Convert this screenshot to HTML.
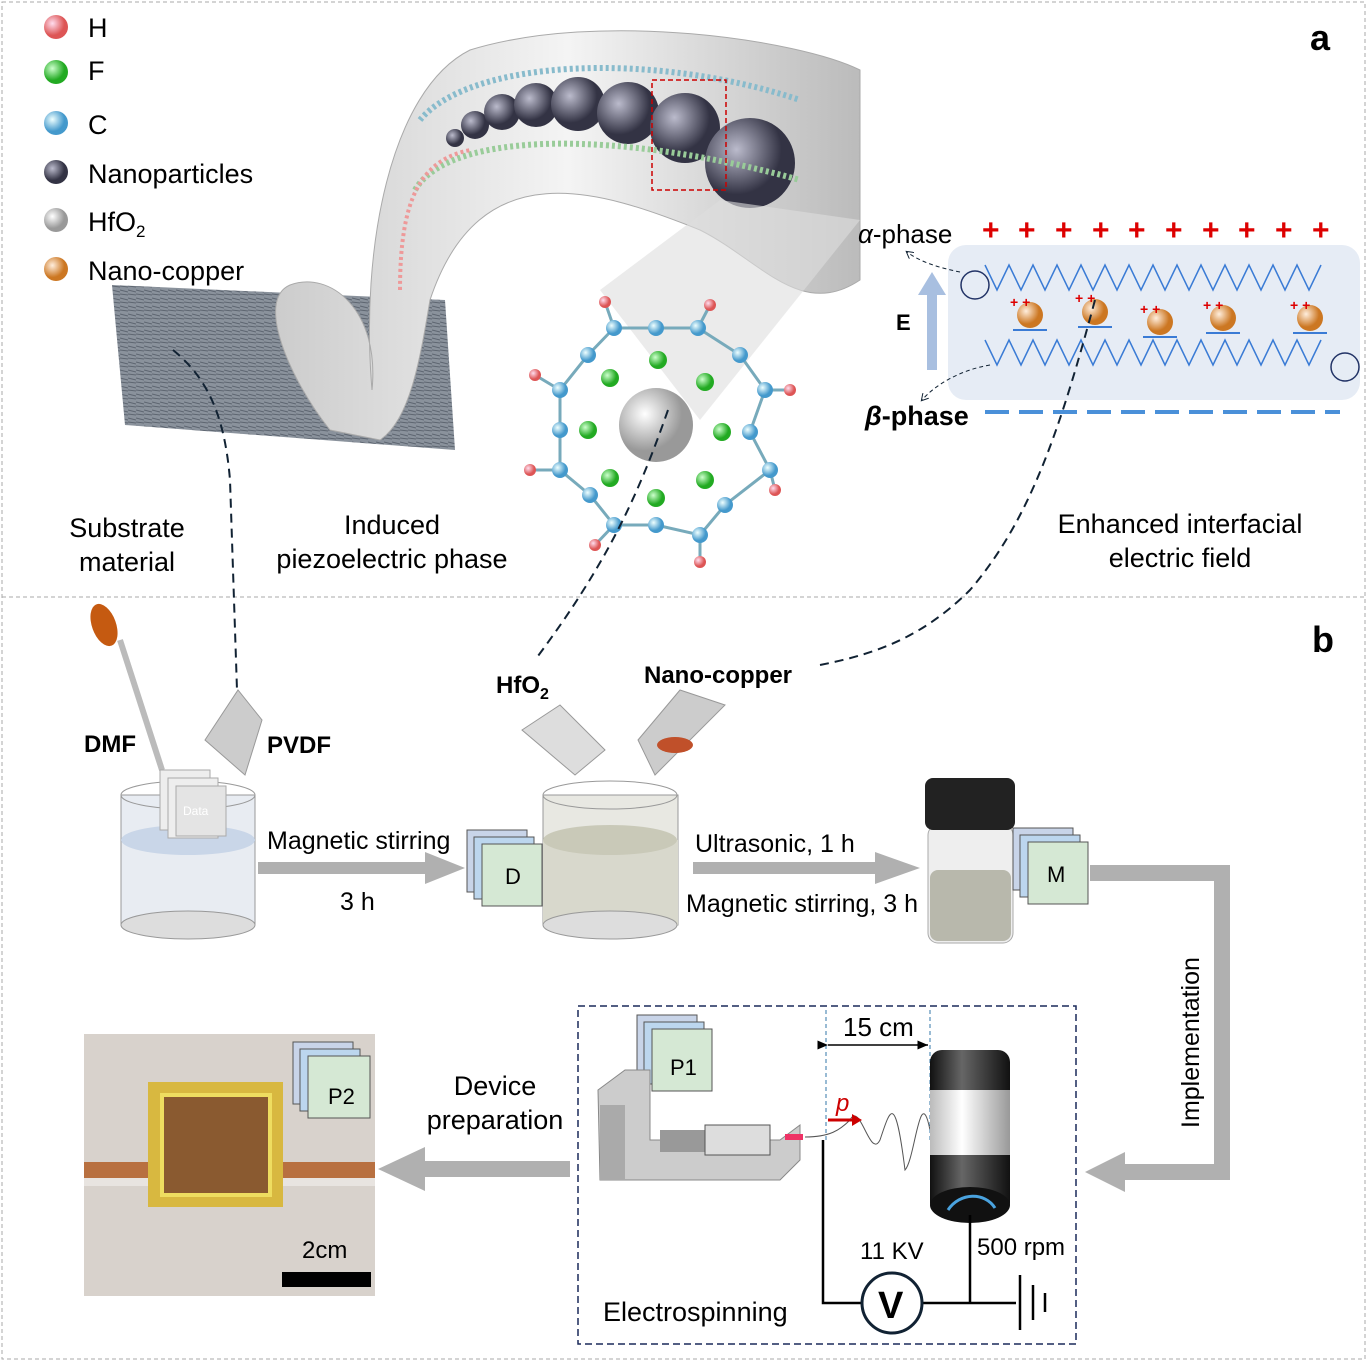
<!DOCTYPE html>
<html><head><meta charset="utf-8"><style>
html,body{margin:0;padding:0;background:#fff}
svg{display:block;font-family:"Liberation Sans",Arial,sans-serif}
</style></head><body>
<svg width="1367" height="1361" viewBox="0 0 1367 1361" xmlns="http://www.w3.org/2000/svg">
<defs>
<radialGradient id="gH" cx="35%" cy="35%"><stop offset="0" stop-color="#fde"/><stop offset="1" stop-color="#d55"/></radialGradient>
<radialGradient id="gF" cx="35%" cy="35%"><stop offset="0" stop-color="#cfc"/><stop offset="1" stop-color="#2a2"/></radialGradient>
<radialGradient id="gC" cx="35%" cy="35%"><stop offset="0" stop-color="#eff"/><stop offset="1" stop-color="#49c"/></radialGradient>
<radialGradient id="gN" cx="35%" cy="35%"><stop offset="0" stop-color="#bbc"/><stop offset="1" stop-color="#334"/></radialGradient>
<radialGradient id="gW" cx="35%" cy="35%"><stop offset="0" stop-color="#fff"/><stop offset="1" stop-color="#999"/></radialGradient>
<radialGradient id="gCu" cx="35%" cy="35%"><stop offset="0" stop-color="#fed"/><stop offset="1" stop-color="#c72"/></radialGradient>
<linearGradient id="tube" x1="0" x2="1"><stop offset="0" stop-color="#ccc"/><stop offset=".5" stop-color="#f4f4f4"/><stop offset="1" stop-color="#bbb"/></linearGradient>
<linearGradient id="cyl" x1="0" x2="1"><stop offset="0" stop-color="#111"/><stop offset=".4" stop-color="#666"/><stop offset="1" stop-color="#111"/></linearGradient>
<linearGradient id="cylw" x1="0" x2="1"><stop offset="0" stop-color="#bbb"/><stop offset=".4" stop-color="#fff"/><stop offset="1" stop-color="#999"/></linearGradient>
<pattern id="mesh" width="8" height="8" patternUnits="userSpaceOnUse"><rect width="8" height="8" fill="#8a929c"/><path d="M0,2 L8,4 M0,6 L8,7" stroke="#5d6570" stroke-width="1"/></pattern>
<marker id="ah" markerWidth="8" markerHeight="8" refX="6" refY="4" orient="auto"><path d="M0,0 L7,4 L0,8" fill="none" stroke="#123" stroke-width="1"/></marker>
<marker id="ak" markerWidth="8" markerHeight="8" refX="7" refY="4" orient="auto"><path d="M0,1 L7,4 L0,7z" fill="#000"/></marker>
</defs>
<rect x="2" y="2" width="1363" height="1357" fill="none" stroke="#aaa" stroke-dasharray="4,3"/>
<line x1="2" y1="597" x2="1365" y2="597" stroke="#aaa" stroke-dasharray="4,3"/>
<text x="1310" y="50" font-size="36" font-weight="bold">a</text>
<text x="1312" y="652" font-size="36" font-weight="bold">b</text>
<!-- legend -->
<g font-size="27">
<circle cx="56" cy="27" r="12" fill="url(#gH)"/><text x="88" y="37">H</text>
<circle cx="56" cy="72" r="12" fill="url(#gF)"/><text x="88" y="80">F</text>
<circle cx="56" cy="123" r="12" fill="url(#gC)"/><text x="88" y="134">C</text>
<circle cx="56" cy="172" r="12" fill="url(#gN)"/><text x="88" y="183">Nanoparticles</text>
<circle cx="56" cy="220" r="12" fill="url(#gW)"/><text x="88" y="231">HfO<tspan font-size="17" dy="6">2</tspan></text>
<circle cx="56" cy="269" r="12" fill="url(#gCu)"/><text x="88" y="280">Nano-copper</text>
</g>
<!-- mesh -->
<path d="M112,285 L445,300 L455,450 L125,425 Z" fill="url(#mesh)"/>
<!-- tube -->
<path d="M330,430 C290,380 255,300 290,285 C330,270 380,310 372,390 C360,250 390,90 470,50 C600,10 800,40 860,70 L860,280 C800,320 760,260 700,230 C600,190 480,150 430,300 C420,360 410,420 380,440 Z" fill="url(#tube)" stroke="#aaa"/>
<g fill="url(#gN)">
<circle cx="455" cy="138" r="9"/><circle cx="475" cy="125" r="14"/><circle cx="502" cy="112" r="18"/><circle cx="536" cy="105" r="22"/><circle cx="578" cy="104" r="27"/><circle cx="628" cy="113" r="31"/><circle cx="685" cy="128" r="35"/>
</g>
<circle cx="750" cy="163" r="45" fill="url(#gN)"/>
<path d="M420,120 C470,60 650,50 800,100" fill="none" stroke="#8bc" stroke-width="6" stroke-dasharray="3,3"/>
<path d="M415,190 C450,130 620,130 800,180" fill="none" stroke="#9c9" stroke-width="6" stroke-dasharray="3,3"/>
<path d="M400,290 C400,200 420,160 470,150" fill="none" stroke="#e99" stroke-width="4" stroke-dasharray="3,3"/>
<rect x="652" y="80" width="74" height="110" fill="none" stroke="#c00" stroke-width="1.5" stroke-dasharray="5,3"/>
<path d="M600,290 L720,200 L860,220 L700,420 Z" fill="#ddd" opacity=".6"/>
<!-- molecule bonds -->
<g stroke="#7ab" stroke-width="3" fill="none">
<polyline points="614,328 656,328 698,328 740,355 765,390 750,432 770,470 725,505 700,535 656,525 614,525 590,495 560,470 560,430 560,390 588,355 614,328"/>
<path d="M614,328 L605,302 M698,328 L710,305 M765,390 L790,390 M770,470 L775,490 M700,535 L700,562 M614,525 L595,545 M560,470 L530,470 M560,390 L535,375"/>
</g>
<g fill="url(#gC)">
<circle cx="614" cy="328" r="8"/><circle cx="656" cy="328" r="8"/><circle cx="698" cy="328" r="8"/><circle cx="740" cy="355" r="8"/><circle cx="765" cy="390" r="8"/><circle cx="750" cy="432" r="8"/><circle cx="770" cy="470" r="8"/><circle cx="725" cy="505" r="8"/><circle cx="700" cy="535" r="8"/><circle cx="656" cy="525" r="8"/><circle cx="614" cy="525" r="8"/><circle cx="590" cy="495" r="8"/><circle cx="560" cy="470" r="8"/><circle cx="560" cy="430" r="8"/><circle cx="560" cy="390" r="8"/><circle cx="588" cy="355" r="8"/>
</g>
<g fill="url(#gF)">
<circle cx="610" cy="378" r="9"/><circle cx="658" cy="360" r="9"/><circle cx="705" cy="382" r="9"/><circle cx="722" cy="432" r="9"/><circle cx="705" cy="480" r="9"/><circle cx="656" cy="498" r="9"/><circle cx="610" cy="478" r="9"/><circle cx="588" cy="430" r="9"/>
</g>
<g fill="url(#gH)">
<circle cx="605" cy="302" r="6"/><circle cx="710" cy="305" r="6"/><circle cx="790" cy="390" r="6"/><circle cx="775" cy="490" r="6"/><circle cx="700" cy="562" r="6"/><circle cx="595" cy="545" r="6"/><circle cx="530" cy="470" r="6"/><circle cx="535" cy="375" r="6"/>
</g>
<circle cx="656" cy="425" r="37" fill="url(#gW)"/>
<!-- phase panel -->
<rect x="948" y="245" width="412" height="155" rx="18" fill="#e6ecf5"/>
<g fill="#d00" font-size="30" font-weight="bold">
<text x="982" y="240">+</text><text x="1018" y="240">+</text><text x="1055" y="240">+</text><text x="1092" y="240">+</text><text x="1128" y="240">+</text><text x="1165" y="240">+</text><text x="1202" y="240">+</text><text x="1238" y="240">+</text><text x="1275" y="240">+</text><text x="1312" y="240">+</text>
</g>
<line x1="985" y1="412" x2="1340" y2="412" stroke="#4a90d9" stroke-width="4" stroke-dasharray="24,10"/>
<path d="M985,265 l12,25 l12,-25 l12,25 l12,-25 l12,25 l12,-25 l12,25 l12,-25 l12,25 l12,-25 l12,25 l12,-25 l12,25 l12,-25 l12,25 l12,-25 l12,25 l12,-25 l12,25 l12,-25 l12,25 l12,-25 l12,25 l12,-25 l12,25 l12,-25 l12,25 l12,-25" fill="none" stroke="#3a7bd5" stroke-width="1.5"/>
<path d="M985,340 l12,25 l12,-25 l12,25 l12,-25 l12,25 l12,-25 l12,25 l12,-25 l12,25 l12,-25 l12,25 l12,-25 l12,25 l12,-25 l12,25 l12,-25 l12,25 l12,-25 l12,25 l12,-25 l12,25 l12,-25 l12,25 l12,-25 l12,25 l12,-25 l12,25 l12,-25" fill="none" stroke="#3a7bd5" stroke-width="1.5"/>
<circle cx="975" cy="285" r="14" fill="none" stroke="#236" stroke-width="1.5"/>
<circle cx="1345" cy="367" r="14" fill="none" stroke="#236" stroke-width="1.5"/>
<g fill="url(#gCu)"><circle cx="1030" cy="315" r="13"/><circle cx="1095" cy="312" r="13"/><circle cx="1160" cy="322" r="13"/><circle cx="1223" cy="318" r="13"/><circle cx="1310" cy="318" r="13"/></g>
<g stroke="#3a7bd5" stroke-width="2"><line x1="1013" y1="330" x2="1047" y2="330"/><line x1="1078" y1="327" x2="1112" y2="327"/><line x1="1143" y1="337" x2="1177" y2="337"/><line x1="1206" y1="333" x2="1240" y2="333"/><line x1="1293" y1="333" x2="1327" y2="333"/></g>
<g fill="#d00" font-size="14" font-weight="bold"><text x="1010" y="307">+ +</text><text x="1075" y="303">+ +</text><text x="1140" y="314">+ +</text><text x="1203" y="310">+ +</text><text x="1290" y="310">+ +</text></g>
<path d="M932,370 L932,290" stroke="#a8bfe0" stroke-width="10"/><path d="M918,295 L932,272 L946,295z" fill="#a8bfe0"/>
<text x="896" y="330" font-size="22" font-weight="bold">E</text>
<text x="858" y="243" font-size="26"><tspan font-style="italic">α</tspan>-phase</text>
<text x="865" y="425" font-size="27" font-weight="bold"><tspan font-style="italic">β</tspan>-phase</text>
<path d="M960,272 C940,268 920,262 907,252" fill="none" stroke="#123" stroke-dasharray="4,3" marker-end="url(#ah)"/>
<path d="M990,365 C960,370 935,385 922,400" fill="none" stroke="#123" stroke-dasharray="4,3" marker-end="url(#ah)"/>
<!-- connector dashes -->
<g fill="none" stroke="#123" stroke-width="2" stroke-dasharray="9,6">
<path d="M173,350 C210,380 225,420 230,480 L237,690"/>
<path d="M668,410 C640,490 610,560 535,660"/>
<path d="M1095,300 C1060,430 1030,520 970,590 C920,640 870,655 820,665"/>
</g>
<g font-size="27" text-anchor="middle">
<text x="127" y="537">Substrate</text><text x="127" y="571">material</text>
<text x="392" y="534">Induced</text><text x="392" y="568">piezoelectric phase</text>
<text x="1180" y="533">Enhanced interfacial</text><text x="1180" y="567">electric field</text>
</g>
<!-- panel b -->
<g font-weight="bold" font-size="24">
<text x="84" y="752">DMF</text><text x="267" y="753">PVDF</text>
<text x="496" y="693">HfO<tspan font-size="16" dy="6">2</tspan></text><text x="644" y="683">Nano-copper</text>
</g>
<line x1="120" y1="640" x2="162" y2="770" stroke="#bbb" stroke-width="6"/>
<ellipse cx="104" cy="625" rx="12" ry="22" fill="#c55a11" transform="rotate(-20 104 625)"/>
<path d="M205,740 L238,690 L262,720 L245,775 Z" fill="#ccc" stroke="#999"/>
<path d="M522,730 L560,705 L605,750 L575,775 Z" fill="#ddd" stroke="#999"/>
<path d="M638,740 L680,690 L725,705 L655,775 Z" fill="#ccc" stroke="#999"/>
<ellipse cx="675" cy="745" rx="18" ry="8" fill="#c0502a"/>
<!-- beaker 1 -->
<rect x="121" y="795" width="134" height="130" fill="#e8ecf2" stroke="#999"/>
<ellipse cx="188" cy="840" rx="67" ry="15" fill="#c9d6e8"/>
<ellipse cx="188" cy="925" rx="67" ry="14" fill="#ddd" stroke="#999"/>
<ellipse cx="188" cy="795" rx="67" ry="14" fill="none" stroke="#999"/>
<rect x="160" y="770" width="50" height="60" fill="#eee" stroke="#aaa"/><rect x="168" y="778" width="50" height="60" fill="#eee" stroke="#aaa"/><rect x="176" y="786" width="50" height="50" fill="#e4e4e4" stroke="#aaa"/>
<text x="183" y="815" font-size="12" fill="#fff">Data</text>
<!-- arrow 1 -->
<path d="M258,868 L430,868" stroke="#b0b0b0" stroke-width="12"/><path d="M425,852 L465,868 L425,884z" fill="#b0b0b0"/>
<text x="267" y="849" font-size="25">Magnetic stirring</text><text x="340" y="910" font-size="25">3 h</text>
<!-- D doc -->
<rect x="467" y="830" width="60" height="62" fill="#c8d4e8" stroke="#555"/><rect x="474" y="837" width="60" height="62" fill="#bcd6ee" stroke="#555"/><rect x="482" y="844" width="60" height="62" fill="#d5e8d4" stroke="#555"/>
<text x="505" y="884" font-size="22">D</text>
<!-- beaker 2 -->
<rect x="543" y="795" width="135" height="130" fill="#e8e8e2" stroke="#999"/>
<rect x="543" y="840" width="135" height="85" fill="#d8d8cc"/>
<ellipse cx="610" cy="840" rx="67" ry="15" fill="#c9c9b8"/>
<ellipse cx="610" cy="925" rx="67" ry="14" fill="#ddd" stroke="#999"/>
<ellipse cx="610" cy="795" rx="67" ry="14" fill="none" stroke="#999"/>
<!-- arrow 2 -->
<path d="M693,868 L880,868" stroke="#b0b0b0" stroke-width="12"/><path d="M875,852 L920,868 L875,884z" fill="#b0b0b0"/>
<text x="695" y="852" font-size="25">Ultrasonic, 1 h</text><text x="686" y="912" font-size="25">Magnetic stirring, 3 h</text>
<!-- vial -->
<rect x="928" y="825" width="85" height="118" rx="10" fill="#eee" stroke="#aaa"/>
<rect x="930" y="870" width="81" height="71" rx="8" fill="#b8b8ac"/>
<rect x="925" y="778" width="90" height="52" rx="8" fill="#222"/>
<rect x="1013" y="828" width="60" height="62" fill="#c8d4e8" stroke="#555"/><rect x="1020" y="835" width="60" height="62" fill="#bcd6ee" stroke="#555"/><rect x="1028" y="842" width="60" height="62" fill="#d5e8d4" stroke="#555"/>
<text x="1047" y="882" font-size="22">M</text>
<!-- implementation arrow -->
<path d="M1090,873 L1222,873 L1222,1172 L1120,1172" fill="none" stroke="#b0b0b0" stroke-width="16"/>
<path d="M1125,1152 L1085,1172 L1125,1192z" fill="#b0b0b0"/>
<text transform="translate(1199,1128) rotate(-90)" font-size="25">Implementation</text>
<!-- electrospinning box -->
<rect x="578" y="1006" width="498" height="338" fill="none" stroke="#1a2a5a" stroke-width="1.5" stroke-dasharray="7,4"/>
<rect x="637" y="1015" width="60" height="62" fill="#c8d4e8" stroke="#555"/><rect x="644" y="1022" width="60" height="62" fill="#bcd6ee" stroke="#555"/><rect x="652" y="1029" width="60" height="62" fill="#d5e8d4" stroke="#555"/>
<text x="670" y="1075" font-size="22">P1</text>
<path d="M598,1090 L625,1070 L650,1070 L650,1140 L780,1140 L800,1125 L800,1160 L780,1180 L600,1180 Z" fill="#ccc" stroke="#888"/>
<rect x="600" y="1105" width="25" height="75" fill="#aaa"/>
<rect x="660" y="1130" width="110" height="22" fill="#999"/>
<rect x="705" y="1125" width="65" height="30" fill="#ddd" stroke="#555"/>
<rect x="785" y="1134" width="18" height="6" fill="#e36"/>
<path d="M805,1137 C830,1137 840,1130 850,1120 C860,1100 870,1160 880,1140 C890,1110 895,1090 905,1170 C915,1160 920,1080 930,1130" fill="none" stroke="#555"/>
<path d="M828,1120 L855,1120" stroke="#c00" stroke-width="3"/><path d="M852,1114 L862,1120 L852,1126z" fill="#c00"/>
<text x="836" y="1111" font-size="24" font-style="italic" fill="#c00">p</text>
<line x1="826" y1="1010" x2="826" y2="1140" stroke="#37a" stroke-dasharray="4,3"/>
<line x1="930" y1="1010" x2="930" y2="1140" stroke="#37a" stroke-dasharray="4,3"/>
<line x1="828" y1="1045" x2="928" y2="1045" stroke="#000" stroke-width="1.5" marker-end="url(#ak)" marker-start="url(#ak)"/>
<text x="843" y="1036" font-size="26">15 cm</text>
<rect x="930" y="1050" width="80" height="165" rx="12" fill="url(#cyl)"/>
<rect x="930" y="1090" width="80" height="65" fill="url(#cylw)"/>
<ellipse cx="970" cy="1205" rx="40" ry="18" fill="#111"/>
<path d="M948,1210 C960,1192 985,1192 995,1208" fill="none" stroke="#4aa3df" stroke-width="3"/>
<g stroke="#000" stroke-width="2.5" fill="none">
<path d="M823,1140 L823,1303 L862,1303"/><path d="M922,1303 L1016,1303"/><line x1="970" y1="1215" x2="970" y2="1303"/>
<line x1="1020" y1="1275" x2="1020" y2="1330"/><line x1="1033" y1="1285" x2="1033" y2="1320"/><line x1="1045" y1="1293" x2="1045" y2="1312"/>
</g>
<circle cx="892" cy="1303" r="30" fill="#fff" stroke="#123" stroke-width="3"/>
<text x="878" y="1318" font-size="38" font-weight="bold">V</text>
<text x="860" y="1259" font-size="24">11 KV</text><text x="977" y="1255" font-size="24">500 rpm</text>
<text x="603" y="1321" font-size="27">Electrospinning</text>
<!-- device prep arrow -->
<path d="M570,1169 L420,1169" stroke="#b0b0b0" stroke-width="16"/><path d="M425,1147 L378,1169 L425,1191z" fill="#b0b0b0"/>
<text x="495" y="1095" font-size="27" text-anchor="middle">Device</text><text x="495" y="1129" font-size="27" text-anchor="middle">preparation</text>
<!-- photo -->
<rect x="84" y="1034" width="291" height="262" fill="#d8d2cc"/>
<rect x="84" y="1162" width="291" height="16" fill="#b87040"/>
<rect x="84" y="1178" width="291" height="8" fill="#e8e4e0"/>
<rect x="148" y="1082" width="135" height="125" fill="#d8b840"/>
<rect x="162" y="1095" width="108" height="100" fill="#8a5a30" stroke="#eedd60" stroke-width="4"/>
<rect x="293" y="1042" width="60" height="62" fill="#c8d4e8" stroke="#555"/><rect x="300" y="1049" width="60" height="62" fill="#bcd6ee" stroke="#555"/><rect x="308" y="1056" width="62" height="62" fill="#d5e8d4" stroke="#555"/>
<text x="328" y="1104" font-size="22">P2</text>
<text x="302" y="1258" font-size="24">2cm</text>
<rect x="282" y="1272" width="89" height="15" fill="#000"/>
</svg>
</body></html>
